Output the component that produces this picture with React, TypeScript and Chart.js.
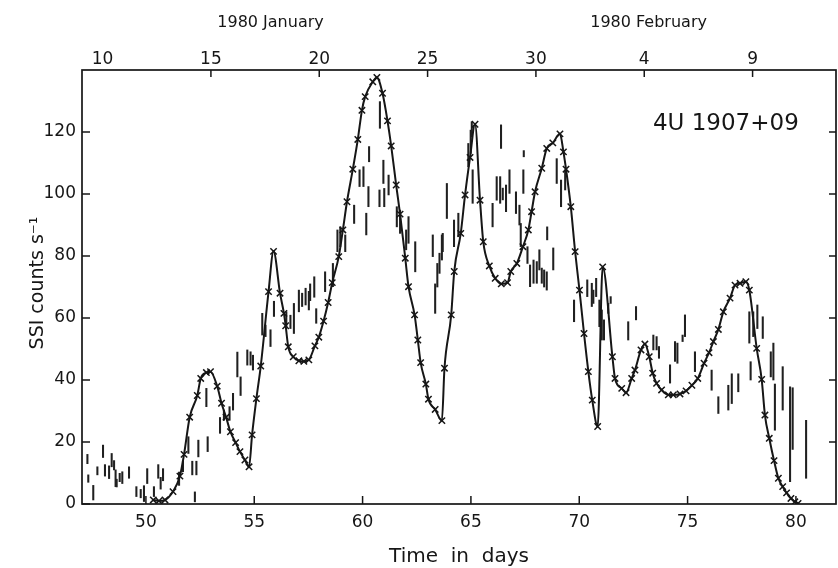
import React, { useEffect, useRef } from "react";
import { Chart, registerables } from "chart.js";

Chart.register(...registerables);

// ---- model curve (solid line with x markers) ----
const curveDays = [
  50.34, 50.6, 50.88, 51.25, 51.57, 51.76, 52.02, 52.37, 52.53, 52.79, 52.98, 53.29, 53.49, 53.7, 53.9,
  54.14, 54.34, 54.57, 54.76, 54.9, 55.1, 55.3, 55.66, 55.89, 56.19, 56.37, 56.45, 56.57, 56.8, 57.06,
  57.29, 57.52, 57.8, 57.98, 58.2, 58.41, 58.6, 58.9, 59.09, 59.28, 59.55, 59.78, 59.97, 60.12, 60.47,
  60.66, 60.92, 61.15, 61.32, 61.55, 61.73, 61.97, 62.12, 62.4, 62.55, 62.68, 62.92, 63.04, 63.35, 63.66,
  63.78, 64.09, 64.23, 64.53, 64.73, 64.96, 65.19, 65.42, 65.57, 65.85, 66.12, 66.4, 66.69, 66.84, 67.12,
  67.4, 67.65, 67.8, 67.96, 68.27, 68.5, 68.78, 69.11, 69.27, 69.39, 69.61, 69.81, 70.01, 70.22, 70.42,
  70.6, 70.85, 71.08, 71.53, 71.65, 71.96, 72.16, 72.42, 72.57, 72.85, 73.03, 73.23, 73.39, 73.57, 73.8,
  74.11, 74.34, 74.65, 74.93, 75.2, 75.47, 75.76, 75.99, 76.19, 76.42, 76.65, 76.96, 77.19, 77.42, 77.69,
  77.85, 78.19, 78.42, 78.57, 78.77, 78.99, 79.19, 79.39, 79.57, 79.77, 79.95, 80.1,
];
const curveCounts = [
  1.3, 1, 1.3, 4, 9, 16, 28, 35, 40.5, 42.4, 42.7, 38, 32.5, 28, 23.3,
  19.8, 16.9, 14.2, 12, 22.3, 34, 44.5, 68.5, 81.5, 68, 61.5, 57.5, 50.7, 47.5, 46.2,
  46, 46.5, 51, 53.8, 59, 65, 71.4, 79.8, 88.4, 97.5, 108, 117.6, 127, 131.4, 136.2,
  137.6, 132.5, 123.6, 115.5, 102.9, 93.5, 79.3, 70.1, 61, 52.9, 45.6, 38.7, 33.8, 30.5, 26.9,
  43.8, 61, 75, 87.3, 99.7, 111.8, 122.5, 98, 84.6, 76.8, 72.8, 71, 71.4, 75, 77.6,
  83, 88.4, 94.3, 100.7, 108.3, 114.7, 116.5, 119.4, 113.6, 108, 95.9, 81.4, 69, 55, 42.7,
  33.5, 25, 76.5, 47.5, 40.5, 37.3, 35.9, 40.5, 43.2, 49.7, 51.6, 47.5, 42.2, 38.9, 36.8,
  35.2, 35.2, 35.5, 36.5, 38.3, 40.5, 45.4, 48.8, 52.4, 56.3, 62, 66.4, 70.6, 71.2, 71.7,
  69, 50.2, 40.2, 28.7, 21.2, 14, 8.3, 5.6, 3.6, 1.8, 0.7, 0.2,
];

// ---- observed data: vertical error bars (day, low, high) ----
const obsDays = [
  47.3, 47.34, 47.57, 47.76, 48.02, 48.11, 48.3, 48.42, 48.53, 48.6, 48.65, 48.79, 48.91, 49.22, 49.56,
  49.76, 49.91, 50.06, 50.37, 50.57, 50.68, 50.79, 51.53, 51.71, 51.96, 52.14, 52.26, 52.33, 52.42, 52.79,
  52.85, 53.42, 53.6, 53.86, 54.02, 54.22, 54.37, 54.68, 54.83, 54.94, 55.37, 55.52, 55.75, 55.91, 56.48,
  56.67, 56.83, 57.06, 57.21, 57.37, 57.52, 57.58, 57.77, 57.86, 58.27, 58.63, 58.84, 58.97, 59.2, 59.61,
  59.86, 60.04, 60.17, 60.27, 60.3, 60.78, 60.8, 60.96, 61.0, 61.2, 61.58, 61.73, 62.01, 62.12, 62.43,
  63.24, 63.35, 63.45, 63.55, 63.66, 63.7, 63.89, 64.22, 64.42, 64.88, 64.99, 65.04, 65.08, 66.0, 66.19,
  66.35, 66.39, 66.47, 66.62, 66.78, 67.08, 67.24, 67.3, 67.42, 67.44, 67.61, 67.73, 67.89, 68.04, 68.16,
  68.27, 68.38, 68.5, 68.52, 68.8, 68.96, 69.16, 69.35, 69.76, 70.37, 70.58, 70.65, 70.78, 70.93, 71.04,
  71.14, 71.34, 71.45, 72.26, 72.62, 73.42, 73.57, 73.68, 74.19, 74.42, 74.53, 74.77, 74.88, 75.34, 76.11,
  76.42, 76.88, 77.04, 77.34, 77.85, 77.91, 78.03, 78.22, 78.47, 78.84, 78.96, 79.03, 79.39, 79.73, 79.85,
  80.47,
];
const obsLow = [
  13, 7, 1.3, 9.4, 15, 9, 8.2, 12, 11, 5.6, 5.5, 7.2, 6.6, 8.3, 2.4,
  2, 0.8, 6.6, 2.4, 8.3, 4.8, 7.5, 6, 10.4, 16.3, 9.4, 0.7, 9.4, 15.2, 31.4,
  16.9, 22.8, 27, 27, 30.3, 41, 35, 44.8, 44.8, 43.2, 54.5, 54, 50.8, 60.5, 57.2,
  56.6, 55, 62, 63.7, 64.2, 62.6, 65.6, 66.7, 58.3, 68.5, 70.1, 81.4, 83, 81.4, 90.5,
  102.4, 102.4, 86.8, 95.9, 110.4, 95.9, 121.2, 103.4, 95.9, 99.7, 89.4, 87.3, 82, 84.1, 74.9,
  79.8, 61.5, 70, 74.4, 78.7, 81.4, 92.1, 83, 86.2, 108.8, 113.1, 118.5, 97, 89.4, 98,
  97, 114.7, 98.1, 94.3, 100.2, 93.7, 90, 83, 100.2, 112, 77.6, 70.1, 71.2, 71.2, 75.5,
  71.2, 70, 69, 85.2, 75.5, 103.4, 95.9, 101.3, 58.8, 66.9, 63.7, 64.7, 66.9, 57.2, 52.9,
  52.9, 61.5, 64.7, 52.9, 59.4, 49.7, 49.7, 47, 39, 46, 45.4, 52.4, 54, 42.7, 36.7,
  29.2, 30.3, 32.4, 36.2, 51.9, 40, 54, 56.6, 53.4, 41, 40, 23.8, 30.3, 7.2, 17.6,
  8.3,
];
const obsHigh = [
  16, 9.4, 6, 12, 19, 12.7, 12.3, 16.3, 14, 11, 8, 9.9, 10.4, 12, 5.6,
  4.7, 5.9, 11.4, 5.6, 12.7, 8.6, 11.4, 10.3, 14, 21.7, 13.8, 3.9, 13.8, 20.6, 37.3,
  21.7, 27.9, 30.3, 31.4, 35.7, 49, 41, 49.7, 49.1, 48, 61.5, 57.7, 56.2, 65.4, 62,
  60.9, 64.7, 69, 68, 69.6, 68.6, 71, 73.3, 63, 74.9, 77.6, 88.4, 89.4, 86.8, 96.4,
  107.8, 108.8, 93.8, 102.4, 115.3, 101.3, 129.8, 110.9, 101.8, 106.1, 95.9, 94.8, 88.4, 92.7, 84.6,
  86.8, 71, 77.6, 80.9, 86.8, 87.3, 103.4, 91.6, 93.8, 116.3, 120.6, 123.3, 107.8, 97, 105.6,
  105.6, 122.3, 101.9, 102.9, 107.8, 100.7, 96.4, 90.5, 107.8, 114, 83, 77.1, 78.7, 78.2, 82,
  76.1, 75.5, 74.9, 89.4, 82.6, 111.4, 104.5, 107.8, 65.8, 72.3, 71.2, 69, 72.8, 65.8, 62.6,
  59.4, 64.7, 66.9, 58.8, 63.7, 54.5, 54, 50.8, 44.9, 52.4, 51.9, 54.5, 61, 49.1, 43.2,
  34.6, 38.3, 42, 42, 62, 45.9, 62, 64.2, 60.4, 49.1, 51.9, 38.7, 44.3, 37.8, 37.5,
  27,
];

// ---- axes ----
const bottomTickValues = [50, 55, 60, 65, 70, 75, 80];
const leftTickValues = [0, 20, 40, 60, 80, 100, 120];
const topTickDays = [48, 53, 58, 63, 68, 73, 78];
const topTickLabels = ["10", "15", "20", "25", "30", "4", "9"];
const monthLabels = ["1980 January", "1980 February"];
const monthLabelDays = [55.75, 73.2];
const sourceLabel = "4U 1907+09";
const xTitle = "Time  in  days";
const yTitle = "SSI counts s\u207B\u00B9";

const FONT = '"DejaVu Sans", "Liberation Sans", sans-serif';
const INK = "#161616";

const decorPlugin = {
  id: "decor",
  afterDatasetsDraw(chart: any) {
    const { ctx, chartArea: a, scales } = chart;
    const xs = scales.x;
    const ys = scales.y;
    ctx.save();
    ctx.strokeStyle = INK;
    ctx.fillStyle = INK;
    ctx.lineWidth = 1.7;
    ctx.strokeRect(a.left, a.top, a.right - a.left, a.bottom - a.top);
    const seg = (x1: number, y1: number, x2: number, y2: number) => {
      ctx.beginPath();
      ctx.moveTo(x1, y1);
      ctx.lineTo(x2, y2);
      ctx.stroke();
    };
    ctx.lineWidth = 1.5;
    for (const v of leftTickValues) {
      const py = ys.getPixelForValue(v);
      seg(a.left, py, a.left + 8, py);
      if (v > 0) seg(a.right, py, a.right - 7, py);
    }
    for (const d of bottomTickValues) {
      const px = xs.getPixelForValue(d);
      seg(px, a.bottom, px, a.bottom - 8);
    }
    for (const d of topTickDays.slice(1)) {
      const px = xs.getPixelForValue(d);
      seg(px, a.top, px, a.top + 7);
    }
    // month labels
    ctx.font = `16px ${FONT}`;
    ctx.textAlign = "center";
    ctx.textBaseline = "middle";
    monthLabels.forEach((t, i) => {
      ctx.fillText(t, xs.getPixelForValue(monthLabelDays[i]), 23);
    });
    // source label
    ctx.font = `23px ${FONT}`;
    ctx.textAlign = "left";
    ctx.textBaseline = "alphabetic";
    ctx.fillText(sourceLabel, xs.getPixelForValue(73.4), ys.getPixelForValue(120.6));
    // x title
    ctx.font = `20px ${FONT}`;
    ctx.textAlign = "center";
    ctx.fillText(xTitle, (a.left + a.right) / 2, 562);
    // y title
    ctx.save();
    ctx.translate(38, (a.top + a.bottom) / 2 - 4);
    ctx.rotate(-Math.PI / 2);
    ctx.font = `19px ${FONT}`;
    ctx.textAlign = "center";
    ctx.textBaseline = "middle";
    ctx.fillText(yTitle, 0, 0);
    ctx.restore();
    ctx.restore();
  },
};

export default function App() {
  const ref = useRef<HTMLCanvasElement | null>(null);
  useEffect(() => {
    if (!ref.current) return;
    const tickFont = { family: FONT, size: 17 };
    const chart = new Chart(ref.current, {
      type: "line",
      data: {
        datasets: [
          {
            type: "line",
            label: "model",
            data: curveDays.map((d, i) => ({ x: d, y: curveCounts[i] })),
            borderColor: INK,
            borderWidth: 2,
            cubicInterpolationMode: "monotone",
            pointStyle: "crossRot",
            pointRadius: 4.5,
            pointBorderWidth: 1.5,
            pointBorderColor: INK,
            pointBackgroundColor: INK,
            fill: false,
            xAxisID: "x",
            yAxisID: "y",
            order: 1,
          } as any,
          {
            type: "bar",
            label: "observed",
            data: obsDays.map((d, i) => ({ x: d, y: [obsLow[i], obsHigh[i]] })),
            backgroundColor: "#202020",
            borderWidth: 0,
            barThickness: 1.4,
            minBarLength: 2,
            grouped: false,
            xAxisID: "x",
            yAxisID: "y",
            order: 2,
          } as any,
        ],
      },
      options: {
        responsive: false,
        animation: false,
        layout: { autoPadding: false, padding: { left: 0, right: 2, top: 0, bottom: 0 } },
        plugins: { legend: { display: false }, tooltip: { enabled: false } },
        scales: {
          x: {
            type: "linear",
            position: "bottom",
            min: 47.05,
            max: 81.85,
            offset: false,
            grid: { display: false, drawTicks: false, offset: false },
            border: { display: false },
            ticks: { font: tickFont, color: INK, padding: 8, maxRotation: 0, autoSkip: false },
            afterBuildTicks: (s: any) => {
              s.ticks = bottomTickValues.map((v) => ({ value: v }));
            },
            afterFit: (s: any) => {
              s.height = 64;
            },
          },
          xTop: {
            type: "linear",
            position: "top",
            min: 47.05,
            max: 81.85,
            offset: false,
            grid: { display: false, drawTicks: false, offset: false },
            border: { display: false },
            ticks: {
              font: tickFont,
              color: INK,
              padding: 0,
              maxRotation: 0,
              autoSkip: false,
              callback: (_v: any, i: number) => topTickLabels[i],
            },
            afterBuildTicks: (s: any) => {
              s.ticks = topTickDays.map((v) => ({ value: v }));
            },
            afterFit: (s: any) => {
              s.height = 70;
            },
          },
          y: {
            type: "linear",
            position: "left",
            min: 0,
            max: 140,
            grid: { display: false, drawTicks: false },
            border: { display: false },
            ticks: { font: tickFont, color: INK, padding: 6, autoSkip: false },
            afterBuildTicks: (s: any) => {
              s.ticks = leftTickValues.map((v) => ({ value: v }));
            },
            afterFit: (s: any) => {
              s.width = 82;
            },
          },
        },
      } as any,
      plugins: [decorPlugin],
    });
    return () => chart.destroy();
  }, []);
  return (
    <div style={{ position: "fixed", left: 0, top: 0, width: 838, height: 568, background: "#fff" }}>
      <canvas ref={ref} width={838} height={568} style={{ display: "block" }} />
    </div>
  );
}
